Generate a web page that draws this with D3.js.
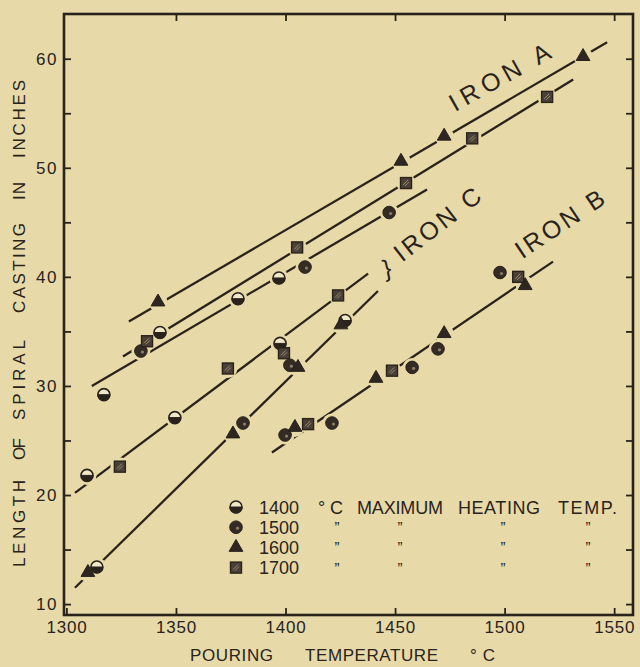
<!DOCTYPE html>
<html>
<head>
<meta charset="utf-8">
<script src="https://cdn.jsdelivr.net/npm/d3@7"></script>
<style>
  body { margin: 0; background: #e7daa8; }
  svg { display: block; }
  text { font-family: "Liberation Sans", Arial, sans-serif; fill: #2a231c; }
</style>
</head>
<body>
<div id="chart"></div>
<script>
// max heating temperature groups (legend)
const heatTemps = ["1400", "1500", "1600", "1700"];

// [pouring temp °C, spiral length in.]
const pts1400 = [[1317.1, 29.2], [1342.7, 34.9], [1378.3, 38.0], [1397.0, 39.9], [1309.4, 21.8],
                 [1349.5, 27.1], [1397.5, 33.9], [1313.9, 13.4], [1427.2, 36.0]];
const pts1500 = [[1334.0, 33.2], [1408.9, 40.9], [1447.3, 45.9], [1380.6, 26.6], [1402.0, 31.9],
                 [1399.8, 25.5], [1421.2, 26.6], [1457.8, 31.7], [1469.6, 33.4], [1497.9, 40.4]];
const pts1600 = [[1341.8, 37.7], [1452.7, 50.6], [1472.4, 52.9], [1535.8, 60.2], [1309.8, 12.9],
                 [1376.0, 25.6], [1405.7, 31.7], [1425.3, 35.6], [1404.3, 26.2], [1441.3, 30.7],
                 [1472.4, 34.8], [1509.4, 39.2]];
const pts1700 = [[1336.8, 34.1], [1405.3, 42.7], [1455.0, 48.6], [1485.2, 52.7], [1519.4, 56.5],
                 [1324.4, 22.6], [1373.7, 31.6], [1399.3, 33.0], [1424.0, 38.3], [1410.3, 26.5],
                 [1448.6, 31.4], [1506.2, 40.0]];

// fitted lines (end points)
const lineA1 = [[1328.5, 35.9], [1546.8, 61.5]];
const lineA2 = [[1325.8, 32.7], [1531.3, 58.1]];
const lineA3 = [[1311.6, 30.0], [1464.6, 48.0]];
const lineC1 = [[1303.9, 20.2], [1437.7, 40.3]];
const lineC2 = [[1303.9, 11.5], [1442.2, 38.7]];
const lineB  = [[1393.8, 23.9], [1522.1, 41.4]];

const xTicks = [1300, 1350, 1400, 1450, 1500, 1550];
const yTicks = [10, 15, 20, 25, 30, 35, 40, 45, 50, 55, 60];
const yLabels = [10, 20, 30, 40, 50, 60];

const bg = "#e7daa8";
const ink = "#2a231c";

const W = 640, H = 667;
const frame = { left: 64, right: 633, top: 14, bottom: 615 };

const x = d3.scaleLinear().domain([1298.9, 1558.6]).range([frame.left, frame.right]);
const y = d3.scaleLinear().domain([9.0, 64.1]).range([frame.bottom, frame.top]);

const svg = d3.select("#chart").append("svg")
    .attr("width", W)
    .attr("height", H);

svg.append("rect").attr("width", W).attr("height", H).attr("fill", bg);

// axes (ticks point inward)
const bottomAxis = svg.append("g")
    .attr("transform", `translate(0,${frame.bottom})`)
    .call(d3.axisBottom(x).tickValues(xTicks).tickSize(-7).tickSizeOuter(0).tickPadding(6).tickFormat(d3.format("d")));
const topAxis = svg.append("g")
    .attr("transform", `translate(0,${frame.top})`)
    .call(d3.axisTop(x).tickValues(xTicks.slice(1)).tickSize(-7).tickSizeOuter(0).tickFormat(""));
const leftAxis = svg.append("g")
    .attr("transform", `translate(${frame.left},0)`)
    .call(d3.axisLeft(y).tickValues(yTicks).tickSize(-7).tickSizeOuter(0).tickPadding(6)
        .tickFormat(d => yLabels.includes(d) ? d : ""));
const rightAxis = svg.append("g")
    .attr("transform", `translate(${frame.right},0)`)
    .call(d3.axisRight(y).tickValues(yTicks).tickSize(-7).tickSizeOuter(0).tickFormat(""));

[bottomAxis, topAxis, leftAxis, rightAxis].forEach(a => {
    a.select(".domain").remove();
    a.selectAll(".tick line").attr("stroke", ink).attr("stroke-width", 1.8);
    a.selectAll(".tick text").attr("font-size", 17).attr("fill", ink)
        .attr("font-family", "Liberation Sans, Arial, sans-serif");
});
leftAxis.selectAll(".tick text").attr("letter-spacing", 1.5);
bottomAxis.selectAll(".tick text").attr("letter-spacing", 0.8);

// frame
svg.append("rect")
    .attr("x", frame.left).attr("y", frame.top)
    .attr("width", frame.right - frame.left)
    .attr("height", frame.bottom - frame.top)
    .attr("fill", "none")
    .attr("stroke", ink)
    .attr("stroke-width", 2.6);

// lines
const line = d3.line().x(d => x(d[0])).y(d => y(d[1]));
svg.append("g").selectAll("path")
    .data([lineA1, lineA2, lineA3, lineC1, lineC2, lineB])
    .enter()
    .append("path")
    .attr("d", line)
    .attr("fill", "none")
    .attr("stroke", ink)
    .attr("stroke-width", 2.3);

// markers
const series = [
    { key: "1400", pts: pts1400 },
    { key: "1500", pts: pts1500 },
    { key: "1600", pts: pts1600 },
    { key: "1700", pts: pts1700 }
];

function drawMarker(g, key, cx, cy) {
    if (key === "1400") {
        g.append("circle").attr("cx", cx).attr("cy", cy).attr("r", 6)
            .attr("fill", "#f1e8c8").attr("stroke", ink).attr("stroke-width", 1.6);
        g.append("path")
            .attr("d", `M${cx - 6},${cy} A6,6 0 0,0 ${cx + 6},${cy} Z`)
            .attr("fill", ink).attr("stroke", ink).attr("stroke-width", 1);
    } else if (key === "1500") {
        g.append("circle").attr("cx", cx).attr("cy", cy).attr("r", 6.3)
            .attr("fill", "#332b24").attr("stroke", ink).attr("stroke-width", 1);
        g.append("circle").attr("cx", cx + 1.5).attr("cy", cy + 1).attr("r", 1.6)
            .attr("fill", "#8a7d66");
    } else if (key === "1600") {
        g.append("path")
            .attr("transform", `translate(${cx},${cy})`)
            .attr("d", d3.symbol().type(d3.symbolTriangle).size(82)())
            .attr("fill", "#2e2620").attr("stroke", ink).attr("stroke-width", 1);
    } else {
        g.append("rect").attr("x", cx - 5.5).attr("y", cy - 5.5).attr("width", 11).attr("height", 11)
            .attr("fill", "#4a4037").attr("stroke", ink).attr("stroke-width", 1.4);
        g.append("path")
            .attr("d", `M${cx - 3},${cy + 2} L${cx + 2},${cy - 3} M${cx - 1},${cy + 3} L${cx + 3},${cy - 1}`)
            .attr("stroke", "#9a8c72").attr("stroke-width", 1);
    }
}

// gaps in the lines around each point
const knock = svg.append("g");
series.forEach(s => {
    knock.selectAll(null)
        .data(s.pts)
        .enter()
        .append("circle")
        .attr("cx", d => x(d[0]))
        .attr("cy", d => y(d[1]))
        .attr("r", 9.5)
        .attr("fill", bg);
});

const marks = svg.append("g");
series.forEach(s => {
    s.pts.forEach(d => drawMarker(marks, s.key, x(d[0]), y(d[1])));
});

// iron labels, along the lines
function slantText(txt, t, l, angle, len, size) {
    svg.append("text")
        .attr("transform", `translate(${x(t)},${y(l)}) rotate(${angle})`)
        .attr("font-size", size)
        .attr("textLength", len)
        .attr("lengthAdjust", "spacing")
        .text(txt);
}
slantText("IRON  A", 1477.4, 55.1, -29.3, 112, 25);
slantText("IRON  C", 1453.2, 41.3, -37.9, 103, 25);
slantText("IRON  B", 1508.0, 41.6, -33.8, 102, 25);
svg.append("text")
    .attr("transform", `translate(${x(1446.3)},${y(40.8)}) rotate(-12)`)
    .attr("font-size", 24)
    .attr("text-anchor", "middle")
    .attr("dy", "0.35em")
    .text("}");

// legend
const legX = 236, legY0 = 507, legDy = 20.2;
const legend = svg.append("g");
heatTemps.forEach((k, i) => {
    const cy = legY0 + i * legDy;
    drawMarker(legend, k, legX, cy);
    legend.append("text")
        .attr("x", 259).attr("y", cy + 6.5)
        .attr("font-size", 18)
        .attr("textLength", 40)
        .text(k);
});
const header = [["°C", 318, 25], ["MAXIMUM", 357, 86], ["HEATING", 458, 82], ["TEMP.", 558, 59]];
header.forEach(h => {
    legend.append("text")
        .attr("x", h[1]).attr("y", legY0 + 6.5)
        .attr("font-size", 18)
        .attr("textLength", h[2])
        .attr("lengthAdjust", "spacing")
        .text(h[0]);
});
const dittoX = [337, 400, 503, 588];
heatTemps.slice(1).forEach((k, i) => {
    const cy = legY0 + (i + 1) * legDy;
    dittoX.forEach(dx => {
        legend.append("text")
            .attr("x", dx).attr("y", cy + 5)
            .attr("text-anchor", "middle")
            .attr("font-size", 15)
            .text("\u201D");
    });
});

// axis titles
const xTitle = [["POURING", 190, 83], ["TEMPERATURE", 305, 133], ["°C", 470, 25]];
xTitle.forEach(w => {
    svg.append("text")
        .attr("x", w[1]).attr("y", 661)
        .attr("font-size", 17)
        .attr("textLength", w[2])
        .attr("lengthAdjust", "spacing")
        .text(w[0]);
});
const yTitle = [["LENGTH", 567, 87], ["OF", 460, 22], ["SPIRAL", 420, 80],
                ["CASTING", 313, 90], ["IN", 200, 18], ["INCHES", 158, 78]];
yTitle.forEach(w => {
    svg.append("text")
        .attr("transform", `translate(24.5,${w[1]}) rotate(-90)`)
        .attr("font-size", 17)
        .attr("textLength", w[2])
        .attr("lengthAdjust", "spacing")
        .text(w[0]);
});
</script>
</body>
</html>
